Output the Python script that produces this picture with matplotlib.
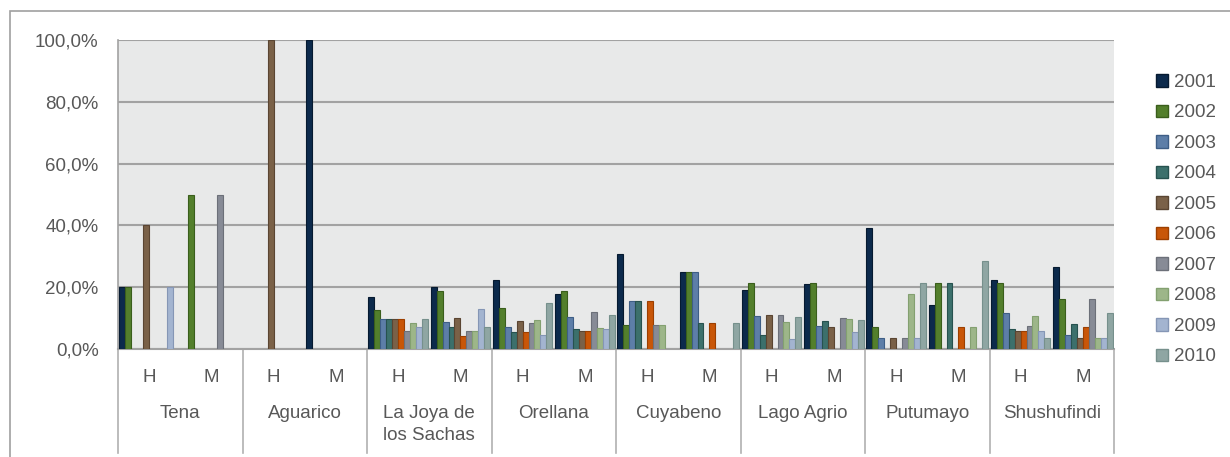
import numpy as np
import matplotlib.pyplot as plt
from matplotlib.patches import Rectangle, Patch
from matplotlib.lines import Line2D
from matplotlib.ticker import FuncFormatter

plt.rcParams['font.family'] = ['Liberation Sans', 'DejaVu Sans']

cantones = ['Tena', 'Aguarico', 'La Joya de\nlos Sachas', 'Orellana',
            'Cuyabeno', 'Lago Agrio', 'Putumayo', 'Shushufindi']
sexos = ['H', 'M']
years = ['2001', '2002', '2003', '2004', '2005',
         '2006', '2007', '2008', '2009', '2010']

# porcentajes por subgrupo: Tena H, Tena M, Aguarico H, Aguarico M, ...
v2001 = [20, 0, 0, 100, 16.9, 20.1, 22.3, 17.7, 30.8, 25.0, 19.1, 21.1, 39.3, 14.3, 22.2, 26.4]
v2002 = [20, 50, 0, 0, 12.6, 18.7, 13.4, 18.7, 7.7, 25.0, 21.5, 21.5, 7.2, 21.4, 21.5, 16.1]
v2003 = [0, 0, 0, 0, 9.8, 8.6, 7.2, 10.4, 15.4, 25.0, 10.7, 7.6, 3.7, 0, 11.5, 4.6]
v2004 = [0, 0, 0, 0, 9.8, 7.1, 5.6, 6.4, 15.4, 8.4, 4.5, 9.1, 0, 21.4, 6.6, 8.1]
v2005 = [40, 0, 100, 0, 9.8, 10.1, 9.0, 5.8, 0, 0, 11.0, 7.0, 3.7, 0, 5.8, 3.5]
v2006 = [0, 0, 0, 0, 9.8, 4.3, 5.6, 5.8, 15.4, 8.4, 0, 0, 0, 7.1, 5.8, 7.0]
v2007 = [0, 50, 0, 0, 5.7, 5.8, 8.4, 12.1, 7.7, 0, 11.0, 10.0, 3.7, 0, 7.4, 16.1]
v2008 = [0, 0, 0, 0, 8.5, 5.8, 9.5, 6.8, 7.7, 0, 8.8, 9.7, 17.9, 7.1, 10.7, 3.5]
v2009 = [20, 0, 0, 0, 7.0, 12.9, 4.4, 6.4, 0, 0, 3.3, 5.4, 3.7, 0, 5.8, 3.5]
v2010 = [0, 0, 0, 0, 9.8, 7.1, 15.0, 10.9, 0, 8.4, 10.4, 9.4, 21.5, 28.6, 3.5, 11.5]
series = [v2001, v2002, v2003, v2004, v2005, v2006, v2007, v2008, v2009, v2010]

colores = ['#0c2a4c', '#537f2c', '#5d7ea8', '#3c706c', '#7a6148',
           '#c85608', '#878b96', '#9db689', '#a3b4d0', '#8fa6a3']
bordes = ['#061a30', '#3a5e1c', '#3e5e86', '#27524f', '#5a4532',
          '#9c3f00', '#6c7079', '#83a070', '#8596b5', '#76908c']

fs = 13.5
tc = '#585858'

fig = plt.figure(figsize=(12.3, 4.57), dpi=100)
W, H = 1230, 457
ax = fig.add_axes([118 / W, (H - 349) / H, (1114 - 118) / W, (349 - 40) / H])
ax.set_facecolor('#e8e9e9')

n = len(cantones) * 2
x = np.arange(n)
bw = 1 / 10.5
for i, vals in enumerate(series):
    vals = np.array(vals, dtype=float)
    vals[vals == 0] = np.nan
    ax.bar(x - 0.5 + 0.25 * bw + (i + 0.5) * bw, vals, width=bw,
           color=colores[i], edgecolor=bordes[i], linewidth=0.8, zorder=3)

ax.set_xlim(-0.5, n - 0.5)
ax.set_ylim(0, 100)
ax.set_yticks([0, 20, 40, 60, 80, 100])
ax.yaxis.set_major_formatter(FuncFormatter(lambda v, p: f'{v:.1f}'.replace('.', ',') + '%'))
ax.grid(axis='y', color='#a2a2a2', linewidth=1.5, zorder=1)
ax.tick_params(axis='y', length=0, pad=14, labelsize=fs, labelcolor=tc)
ax.set_xticks([])
for s in ['top', 'right']:
    ax.spines[s].set_visible(False)
ax.spines['left'].set_color('#a2a2a2')
ax.spines['bottom'].set_color('#a2a2a2')
ax.spines['left'].set_linewidth(1.2)
ax.spines['bottom'].set_linewidth(1.5)

trans = ax.get_xaxis_transform()
for k in range(len(cantones) + 1):
    ax.add_line(Line2D([2 * k - 0.5, 2 * k - 0.5], [0, -0.335], transform=trans,
                       color='#b0b0b0', linewidth=1.2, clip_on=False))
for j in range(n):
    ax.text(x[j], -0.092, sexos[j % 2], transform=trans, ha='center', va='center',
            fontsize=fs, color=tc)
for k, c in enumerate(cantones):
    ax.text(2 * k + 0.5, -0.18, c, transform=trans, ha='center', va='top',
            fontsize=fs, color=tc, linespacing=1.4)

# marco exterior
fig.add_artist(Rectangle((10 / W, -0.05), 1.1, 1 - 11 / H + 0.05, transform=fig.transFigure,
                         fill=False, edgecolor='#a0a0a0', linewidth=1.2))

handles = [Patch(facecolor=colores[i], edgecolor=bordes[i], label=years[i]) for i in range(10)]
fig.legend(handles=handles, loc='upper left', bbox_to_anchor=(1139 / W, 1 - 57 / H),
           frameon=False, fontsize=fs, handlelength=0.65, handleheight=0.65,
           handletextpad=0.3, labelspacing=0.72, labelcolor=tc)

fig.savefig('out.png', dpi=100)
